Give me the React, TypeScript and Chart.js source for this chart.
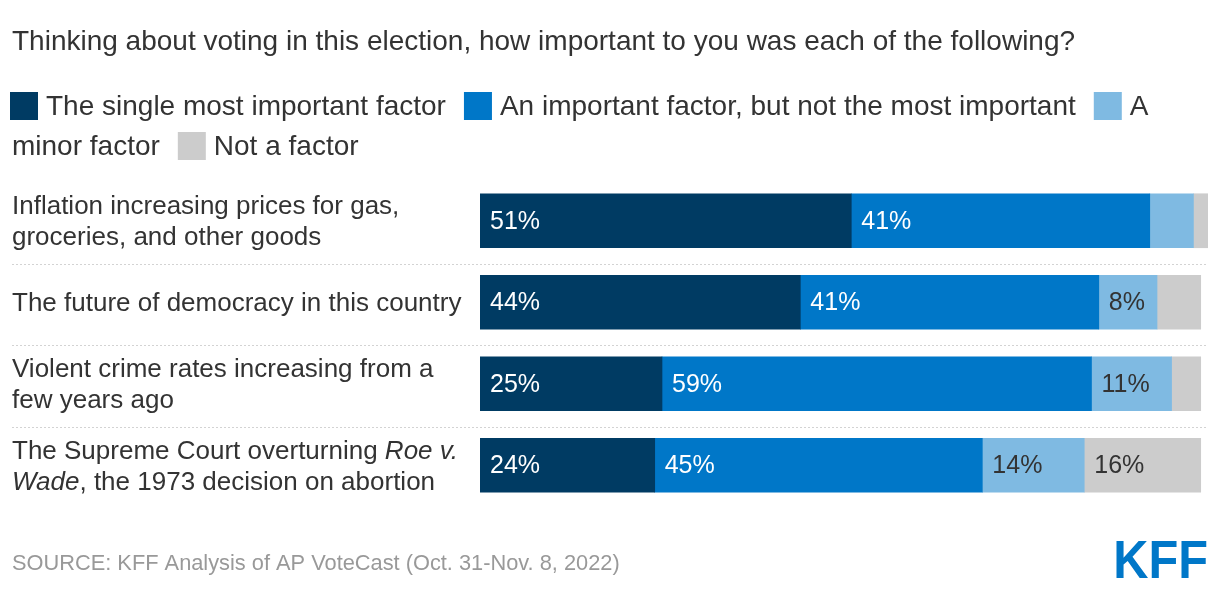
import React, { useEffect, useRef } from "react";
import { Chart, registerables } from "chart.js";

Chart.register(...registerables);

const titleText = "Thinking about voting in this election, how important to you was each of the following?";
const sourceText = "SOURCE: KFF Analysis of AP VoteCast (Oct. 31-Nov. 8, 2022)";

// Category labels; text between asterisks is italic
const categoryLines: string[][] = [
  ["Inflation increasing prices for gas,", "groceries, and other goods"],
  ["The future of democracy in this country"],
  ["Violent crime rates increasing from a", "few years ago"],
  ["The Supreme Court overturning *Roe v.*", "*Wade*, the 1973 decision on abortion"],
];
const categories = categoryLines.map((l) => l.join(" ").replace(/\*/g, ""));

const seriesNames = [
  "The single most important factor",
  "An important factor, but not the most important",
  "A minor factor",
  "Not a factor",
];
const mostImportant = [51, 44, 25, 24];
const importantNotMost = [41, 41, 59, 45];
const minorFactor = [6, 8, 11, 14];
const notFactor = [2, 6, 4, 16];

const colors = ["#003B63", "#0077C8", "#7FBAE2", "#CCCCCC"];
const labelColors = ["#FFFFFF", "#FFFFFF", "#333333", "#333333"];

const FONT = "'Liberation Sans', Arial, sans-serif";

const decorPlugin = {
  id: "decor",
  beforeDraw(chart: any) {
    const ctx = chart.ctx as CanvasRenderingContext2D;
    ctx.save();
    ctx.fillStyle = "#fff";
    ctx.fillRect(0, 0, chart.width, chart.height);
    // title
    ctx.fillStyle = "#333333";
    ctx.font = `28px ${FONT}`;
    ctx.textBaseline = "middle";
    ctx.textAlign = "left";
    ctx.fillText(titleText, 12, 42);

    // legend, flowing like text
    const maxRight = 1208;
    let x = 10;
    let y = 106;
    const lineH = 40;
    const space = ctx.measureText(" ").width;
    const box = 28;
    const boxGap = 8;
    seriesNames.forEach((name, i) => {
      const words = name.split(" ");
      const first = words[0];
      const firstW = box + boxGap + ctx.measureText(first).width;
      if (i > 0) x += 18;
      if (x + firstW > maxRight) {
        x = 10;
        y += lineH;
      }
      ctx.fillStyle = colors[i];
      ctx.fillRect(x, y - 14, box, box);
      x += box + boxGap;
      ctx.fillStyle = "#333333";
      ctx.fillText(first, x, y + 1);
      x += ctx.measureText(first).width;
      for (let k = 1; k < words.length; k++) {
        const w = ctx.measureText(words[k]).width;
        if (x + space + w > maxRight) {
          x = 12;
          y += lineH;
        } else {
          x += space;
        }
        ctx.fillText(words[k], x, y + 1);
        x += w;
      }
    });

    // category labels
    const yScale = chart.scales.y;
    categoryLines.forEach((lines, idx) => {
      const cy = yScale.getPixelForValue(idx);
      const lh = 31;
      const startY = cy - ((lines.length - 1) * lh) / 2;
      lines.forEach((line, li) => {
        const parts = line.split("*");
        let lx = 12;
        parts.forEach((p, pi) => {
          ctx.font = pi % 2 === 1 ? `italic 26px ${FONT}` : `26px ${FONT}`;
          ctx.fillStyle = "#333333";
          ctx.fillText(p, lx, startY + li * lh + 2);
          lx += ctx.measureText(p).width;
        });
      });
    });

    // separators
    ctx.strokeStyle = "#d3d3d3";
    ctx.lineWidth = 1;
    ctx.setLineDash([2, 2]);
    for (let i = 0; i < categories.length - 1; i++) {
      const a = yScale.getPixelForValue(i);
      const b = yScale.getPixelForValue(i + 1);
      const sy = Math.round((a + b) / 2) + 0.5 + 2;
      ctx.beginPath();
      ctx.moveTo(12, sy);
      ctx.lineTo(chart.chartArea.right, sy);
      ctx.stroke();
    }
    ctx.setLineDash([]);

    // source
    ctx.font = `21.8px ${FONT}`;
    ctx.fillStyle = "#999999";
    ctx.fillText(sourceText, 12, 564);

    // logo
    ctx.fillStyle = "#0077C8";
    ctx.font = `bold 53px ${FONT}`;
    ctx.textAlign = "right";
    ctx.textBaseline = "alphabetic";
    ctx.save();
    ctx.translate(1208, 578);
    ctx.scale(0.92, 1);
    ctx.fillText("KFF", 0, 0);
    ctx.restore();
    ctx.restore();
  },
  afterDatasetsDraw(chart: any) {
    const ctx = chart.ctx as CanvasRenderingContext2D;
    ctx.save();
    ctx.font = `25px ${FONT}`;
    ctx.textBaseline = "middle";
    ctx.textAlign = "left";
    chart.data.datasets.forEach((ds: any, di: number) => {
      const meta = chart.getDatasetMeta(di);
      meta.data.forEach((el: any, i: number) => {
        const v = ds.data[i];
        if (v < 8) return;
        const left = Math.min(el.base, el.x);
        ctx.fillStyle = labelColors[di];
        ctx.fillText(`${v}%`, left + 10, el.y + 1);
      });
    });
    ctx.restore();
  },
};

export default function App() {
  const ref = useRef<HTMLCanvasElement | null>(null);
  useEffect(() => {
    document.body.style.margin = "0";
    const seriesData = [mostImportant, importantNotMost, minorFactor, notFactor];
    const chart = new Chart(ref.current as HTMLCanvasElement, {
      type: "bar",
      data: {
        labels: categories,
        datasets: seriesData.map((d, i) => ({
          label: seriesNames[i],
          data: d,
          backgroundColor: colors[i],
          borderWidth: 0,
          barThickness: 54,
        })),
      },
      options: {
        indexAxis: "y",
        responsive: false,
        maintainAspectRatio: false,
        animation: false,
        layout: { padding: { left: 480, right: 12, top: 180, bottom: 92 } },
        scales: {
          x: { stacked: true, min: 0, max: 100, display: false },
          y: { stacked: true, display: false },
        },
        plugins: {
          legend: { display: false },
          tooltip: { enabled: false },
          title: { display: false },
        },
      },
      plugins: [decorPlugin],
    } as any);
    return () => chart.destroy();
  }, []);
  return (
    <div style={{ width: 1220, height: 598 }}>
      <canvas ref={ref} width={1220} height={598} style={{ display: "block" }} />
    </div>
  );
}
